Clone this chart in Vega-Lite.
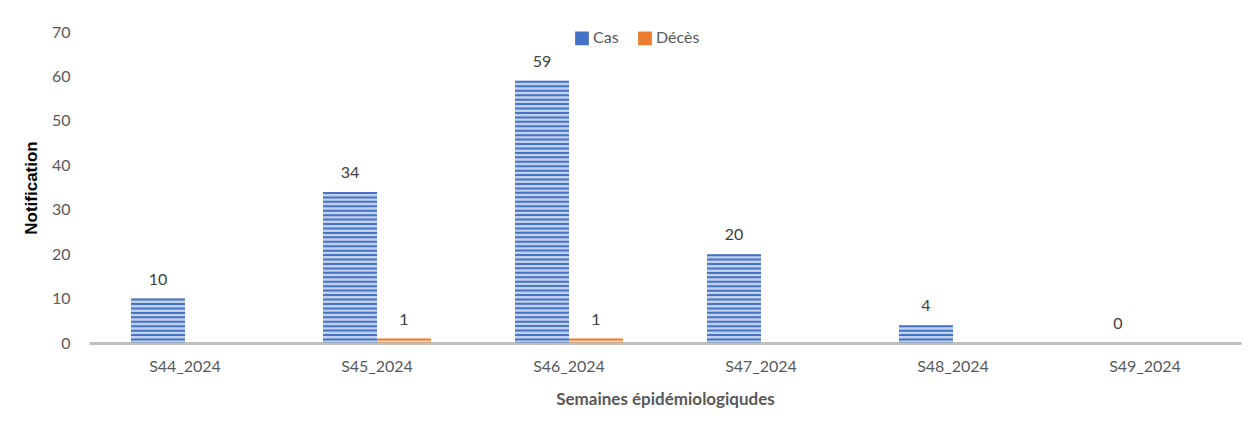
{
  "$schema": "https://vega.github.io/schema/vega-lite/v6.json",
  "autosize": "none",
  "width": 1152,
  "height": 311,
  "padding": {"left": 89, "top": 32, "right": 15, "bottom": 92},
  "background": "white",
  "config": {
    "font": "Lato",
    "view": {"stroke": null}
  },
  "data": {
    "values": [
      {"semaine": "S44_2024", "type": "Cas", "n": 10},
      {"semaine": "S45_2024", "type": "Cas", "n": 34},
      {"semaine": "S46_2024", "type": "Cas", "n": 59},
      {"semaine": "S47_2024", "type": "Cas", "n": 20},
      {"semaine": "S48_2024", "type": "Cas", "n": 4},
      {"semaine": "S49_2024", "type": "Cas", "n": 0},
      {"semaine": "S45_2024", "type": "Décès", "n": 1},
      {"semaine": "S46_2024", "type": "Décès", "n": 1}
    ]
  },
  "encoding": {
    "x": {
      "field": "semaine",
      "type": "nominal",
      "sort": null,
      "scale": {"paddingInner": 0.4375, "paddingOuter": 0.21875},
      "axis": {
        "title": "Semaines épidémiologiqudes",
        "labelAngle": 0,
        "labelFontSize": 16,
        "labelColor": "#595959",
        "labelPadding": 15,
        "ticks": false,
        "domainColor": "#BFBFBF",
        "domainWidth": 3,
        "titleFontSize": 17,
        "titleFontWeight": "bold",
        "titleColor": "#595959",
        "titlePadding": 17
      }
    },
    "xOffset": {"field": "type", "type": "nominal", "scale": {"domain": ["Cas", "Décès"]}},
    "y": {
      "field": "n",
      "type": "quantitative",
      "scale": {"domain": [0, 70]},
      "axis": {
        "title": "Notification",
        "values": [0, 10, 20, 30, 40, 50, 60, 70],
        "domain": false,
        "ticks": false,
        "grid": false,
        "labelFontSize": 16,
        "labelColor": "#595959",
        "labelPadding": 19,
        "titleFont": "Liberation Sans",
        "titleFontSize": 17,
        "titleFontWeight": "bold",
        "titleColor": "#000000",
        "titlePadding": 11
      }
    }
  },
  "layer": [
    {
      "mark": {"type": "bar", "fillOpacity": 0.33},
      "encoding": {
        "color": {
          "field": "type",
          "type": "nominal",
          "scale": {"domain": ["Cas", "Décès"], "range": ["#4472C4", "#ED7D31"]},
          "legend": {
            "title": null,
            "orient": "none",
            "direction": "horizontal",
            "legendX": 485,
            "legendY": -2,
            "symbolType": "square",
            "symbolSize": 150,
            "symbolOpacity": 1,
            "labelFontSize": 16,
            "labelColor": "#595959",
            "columnPadding": 16,
            "labelOffset": 3
          }
        }
      }
    },
    {
      "mark": {"type": "rule", "strokeWidth": 54, "strokeDash": [2, 2.44], "strokeCap": "butt"},
      "encoding": {
        "y2": {"datum": 0},
        "stroke": {
          "field": "type",
          "type": "nominal",
          "scale": {"domain": ["Cas", "Décès"], "range": ["#4472C4", "#ED7D31"]},
          "legend": null
        }
      }
    },
    {
      "mark": {"type": "text", "baseline": "bottom", "dy": -11, "fontSize": 16, "color": "#404040"},
      "encoding": {
        "text": {"field": "n", "type": "quantitative"}
      }
    }
  ]
}
